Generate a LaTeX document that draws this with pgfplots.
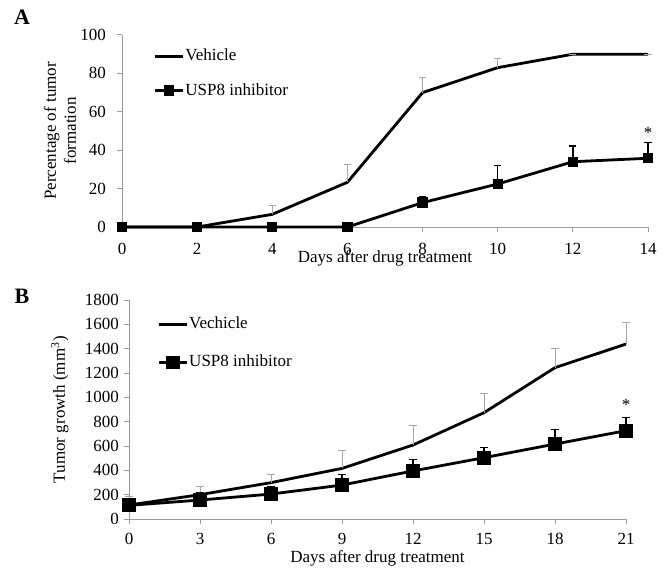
\documentclass[border=0pt]{standalone}
\usepackage{fontspec}
\setmainfont{Liberation Serif}
\usepackage{pgfplots}
\pgfplotsset{compat=1.18}

% one picture pixel = 0.5pt
\pgfplotsset{
  panel/.style={
    scale only axis,
    axis x line*=bottom, axis y line*=left,
    axis line style={color=gray!80, line width=0.5pt},
    tick style={color=gray!80, line width=0.5pt},
    tick align=outside, major tick length=2.5pt,
    font=\fontsize{8.5}{10}\selectfont,
    /pgf/number format/assume math mode=true,
    /pgf/number format/1000 sep={},
    clip=false,
    legend cell align=left,
    legend style={draw=none, fill=none, inner sep=0pt,
      nodes={inner sep=0.6pt}, font=\fontsize{8.5}{10}\selectfont},
    legend image code/.code={
      \draw[mark repeat=2, mark phase=2, ##1]
        plot coordinates {(0pt,0pt) (7pt,0pt) (14pt,0pt)};},
  },
  veh/.style={black, line width=1.4pt, mark=none,
    error bars/.cd, y dir=plus, y explicit,
    error bar style={gray!70, line width=0.5pt},
    error mark options={gray!70, line width=0.5pt, mark size=1.8pt, rotate=90}},
  usp/.style={black, line width=1.4pt, mark=square*, mark size=#1,
    error bars/.cd, y dir=plus, y explicit,
    error bar style={black, line width=0.7pt},
    error mark options={black, line width=0.7pt, mark size=1.8pt, rotate=90}},
}

\pgfplotstableread{
d  v     e
0  0     0
2  0     0
4  6.6   4.7
6  23.3  9.3
8  70    7.8
10 83    4.7
12 90    0
14 90    0
}\vehA
\pgfplotstableread{
d  v     e
0  0     0
2  0     0
4  0     0
6  0     0
8  12.7  3.1
10 22.4  9.5
12 34    8.2
14 35.8  8.1
}\uspA
\pgfplotstableread{
d  v     e
0  115   69
3  200   66
6  299   68
9  416   151
12 608   162
15 874   159
18 1244  159
21 1438  178
}\vehB
\pgfplotstableread{
d  v     e
0  112   30
3  156   60
6  205   57
9  279   88
12 395   95
15 504   82
18 616   121
21 726   110
}\uspB

\begin{document}
\begin{tikzpicture}
\path (0pt,0pt) rectangle (333.5pt,-286pt);
\node[font=\bfseries\fontsize{11}{12}\selectfont] at (11pt,-8.5pt) {A};
\node[font=\bfseries\fontsize{11}{12}\selectfont] at (11pt,-148pt) {B};

\begin{axis}[panel,
  at={(61pt,-113.5pt)}, anchor=south west,
  width=263pt, height=96pt,
  xmin=0, xmax=14, ymin=0, ymax=100,
  xtick={0,2,...,14}, ytick={0,20,...,100},
  xticklabel style={yshift=-2pt},
  yticklabel style={xshift=-2pt},
  xlabel={Days after drug treatment},
  xlabel style={at={(axis description cs:0.5,-0.163)}, anchor=center},
  ylabel={Percentage of tumor\\formation},
  ylabel style={align=center, at={(axis description cs:-0.118,0.5)}, anchor=center},
  legend style={at={(axis description cs:0.059,0.935)}, anchor=north west,
    row sep=8.5pt},
]
\addplot[veh] table[x=d, y=v, y error plus=e] {\vehA};
\addlegendentry{Vehicle}
\addplot[usp=1.9pt] table[x=d, y=v, y error plus=e] {\uspA};
\addlegendentry{USP8 inhibitor}
\node at (axis cs:14,49) {*};
\end{axis}

\begin{axis}[panel,
  at={(64.5pt,-259.5pt)}, anchor=south west,
  width=248.5pt, height=109.5pt,
  xmin=0, xmax=21, ymin=0, ymax=1800,
  xtick={0,3,...,21}, ytick={0,200,...,1800},
  xticklabel style={yshift=-1pt},
  yticklabel style={xshift=1pt},
  xlabel={Days after drug treatment},
  xlabel style={at={(axis description cs:0.5,-0.178)}, anchor=center},
  ylabel={Tumor growth (mm\textsuperscript{3})},
  ylabel style={at={(axis description cs:-0.139,0.5)}, anchor=center},
  legend style={at={(axis description cs:0.056,0.93)}, anchor=north west,
    row sep=10.5pt},
]
\addplot[veh] table[x=d, y=v, y error plus=e] {\vehB};
\addlegendentry{Vechicle}
\addplot[usp=2.75pt] table[x=d, y=v, y error plus=e] {\uspB};
\addlegendentry{USP8 inhibitor}
\node at (axis cs:21,937) {*};
\end{axis}
\end{tikzpicture}
\end{document}
